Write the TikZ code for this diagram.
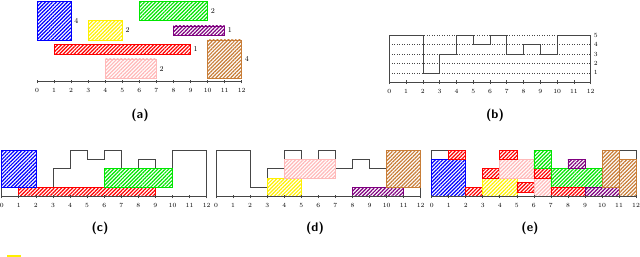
\documentclass[tikz,border=0pt]{standalone}
\usetikzlibrary{patterns.meta}
\definecolor{cblue}{RGB}{0,0,255}
\definecolor{cyellow}{RGB}{255,240,0}
\definecolor{cgreen}{RGB}{0,230,0}
\definecolor{cpurple}{RGB}{128,0,128}
\definecolor{cred}{RGB}{255,0,0}
\definecolor{cpink}{RGB}{255,185,185}
\definecolor{cbrown}{RGB}{200,125,55}
\definecolor{cline}{RGB}{70,70,70}
\tikzset{
 job/.style={draw=#1, line width=0.7pt, preaction={fill=white}, pattern={Lines[angle=45,distance=2.6pt,line width=1.2pt]}, pattern color=#1},
 prof/.style={draw=cline, line width=0.7pt},
 ticklab/.style={font=\fontsize{6.3}{7}\selectfont, inner sep=0pt},
 captext/.style={font=\fontsize{12.5}{14}\sffamily\bfseries\selectfont, inner sep=0pt},
 numlab/.style={font=\fontsize{7.5}{8}\selectfont, inner sep=0pt, anchor=west, xshift=3pt},
}
\newcommand\myaxis{%
 \draw[prof] (0,0) -- (12,0);
 \foreach \i in {0,...,12}{\draw[prof] (\i,0) ++(0,-1.8pt) -- ++(0,3.6pt);
   \node[ticklab] at ([yshift=-9pt]\i,0) {\i};}}
\newcommand\myprofile{%
 \draw[prof] (0,0) -- (0,5) -- (2,5) -- (2,1) -- (3,1) -- (3,3) -- (4,3) -- (4,5) -- (5,5) -- (5,4) -- (6,4) -- (6,5) -- (7,5) -- (7,3) -- (8,3) -- (8,4) -- (9,4) -- (9,3) -- (10,3) -- (10,5) -- (12,5) -- (12,0);}
\begin{document}
\begin{tikzpicture}
\useasboundingbox (0,0) rectangle (640pt,257pt);
% (a)
\begin{scope}[shift={(37pt,175.3pt)}, x=17.06pt, y=1pt]
 \draw[job=cblue] (0,41.7) rectangle (2,80); \node[numlab] at (2,60.8) {4};
 \draw[job=cyellow] (3,41.7) rectangle (5,61); \node[numlab] at (5,51.4) {2};
 \draw[job=cgreen] (6,61) rectangle (10,80); \node[numlab] at (10,70.5) {2};
 \draw[job=cpurple] (8,46.7) rectangle (11,55.7); \node[numlab] at (11,51.2) {1};
 \draw[job=cred] (1,27.7) rectangle (9,37.4); \node[numlab] at (9,32.5) {1};
 \draw[job=cpink] (4,3.4) rectangle (7,22.7); \node[numlab] at (7,13) {2};
 \draw[job=cbrown] (10,3.4) rectangle (12,41.7); \node[numlab] at (12,22.5) {4};
 \myaxis
\end{scope}
\node[captext] (capa) at (140pt,142pt) {(a)};
% (b)
\begin{scope}[shift={(389.3pt,174.7pt)}, x=16.78pt, y=9.4pt]
 \foreach \l in {1,...,5}{\draw[cline, dotted, line width=0.5pt] (0,\l) -- (12,\l);
   \node[numlab, font=\fontsize{6.3}{7}\selectfont] at (12,\l) {\l};}
 \myprofile
 \myaxis
\end{scope}
\node[captext] (capb) at (495pt,142pt) {(b)};
% (c)
\begin{scope}[shift={(1.7pt,60.3pt)}, x=17.08pt, y=9.33pt]
 \myprofile
 \draw[job=cred] (1,0) rectangle (9,1);
 \draw[job=cblue] (0,1) rectangle (2,5);
 \draw[job=cgreen] (6,1) rectangle (10,3);
 \myaxis
\end{scope}
\node[captext] (capc) at (100pt,29pt) {(c)};
% (d)
\begin{scope}[shift={(216pt,60.3pt)}, x=17.06pt, y=9.33pt]
 \myprofile
 \draw[job=cyellow] (3,0) rectangle (5,2);
 \draw[job=cpink] (4,2) rectangle (7,4);
 \draw[job=cpurple] (8,0) rectangle (11,1);
 \draw[job=cbrown] (10,1) rectangle (12,5);
 \myaxis
\end{scope}
\node[captext] (capd) at (315pt,29pt) {(d)};
% (e)
\begin{scope}[shift={(431.7pt,60.3pt)}, x=17.03pt, y=9.33pt]
 \myprofile
 \draw[job=cblue] (0,0) rectangle (2,4);
 \draw[job=cred] (1,4) rectangle (2,5);
 \draw[job=cred] (2,0) rectangle (3,1);
 \draw[job=cyellow] (3,0) rectangle (5,2);
 \draw[job=cred] (3,2) rectangle (4,3);
 \draw[job=cpink] (4,2) rectangle (6,4);
 \draw[job=cred] (4,4) rectangle (5,5);
 \draw[job=cred] (5,0.5) rectangle (6,1.5);
 \draw[job=cpink] (6,0) rectangle (7,2);
 \draw[job=cred] (6,2) rectangle (7,3);
 \draw[job=cgreen] (6,3) rectangle (7,5);
 \draw[job=cgreen] (7,1) rectangle (10,3);
 \draw[job=cred] (7,0) rectangle (9,1);
 \draw[job=cpurple] (8,3) rectangle (9,4);
 \draw[job=cpurple] (9,0) rectangle (11,1);
 \draw[job=cbrown] (10,1) rectangle (11,5);
 \draw[job=cbrown] (11,0) rectangle (12,4);
 \myaxis
\end{scope}
\node[captext] (cape) at (530pt,29pt) {(e)};
\fill[cyellow] (7.3pt,0pt) rectangle (20.7pt,1.8pt);
\end{tikzpicture}
\end{document}
